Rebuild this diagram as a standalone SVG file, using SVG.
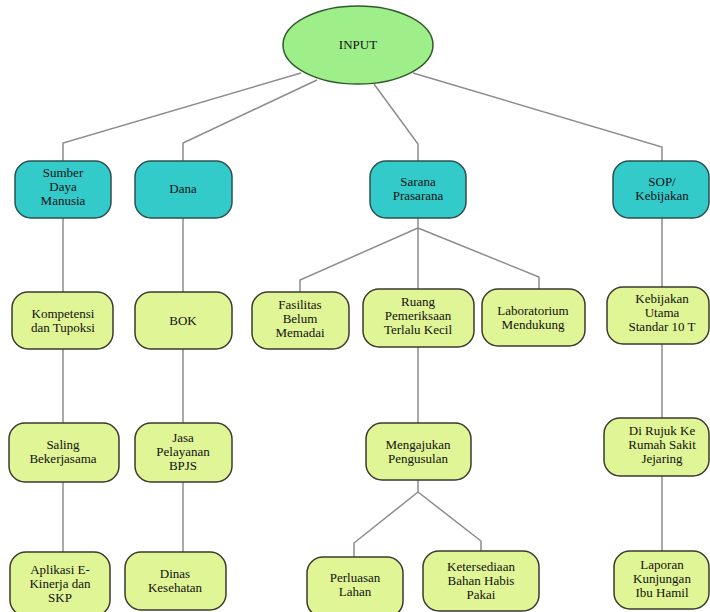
<svg xmlns="http://www.w3.org/2000/svg" width="710" height="612" viewBox="0 0 710 612">
<style>
text{font-family:'Liberation Serif','Times New Roman','DejaVu Serif',serif;font-size:13px;fill:#111;text-anchor:middle}
.teal{fill:#33CACA;stroke:#2E4F4F;stroke-width:1.5}
.lime{fill:#E0F595;stroke:#3A3A30;stroke-width:1.5}
.c{fill:none;stroke:#8C8C8C;stroke-width:1.5}
</style>
<rect width="710" height="612" fill="#fff"/>
<g id="connectors">
<polyline class="c" points="301,73 63,143 63,161"/>
<polyline class="c" points="317,80 183,143 183,161"/>
<polyline class="c" points="374,84 418,144 418,161"/>
<polyline class="c" points="413,73 662,147 662,161"/>
<line class="c" x1="63" y1="218" x2="63" y2="292"/>
<line class="c" x1="183" y1="218" x2="183" y2="292"/>
<polyline class="c" points="418,218 418,228 300,280 300,292"/>
<line class="c" x1="418" y1="228" x2="418" y2="289"/>
<polyline class="c" points="418,228 539,277 539,289"/>
<line class="c" x1="662" y1="218" x2="662" y2="287"/>
<line class="c" x1="63" y1="349" x2="63" y2="423"/>
<line class="c" x1="183" y1="349" x2="183" y2="423"/>
<line class="c" x1="418" y1="347" x2="418" y2="423"/>
<line class="c" x1="662" y1="344" x2="662" y2="418"/>
<line class="c" x1="63" y1="482" x2="63" y2="552"/>
<line class="c" x1="183" y1="482" x2="183" y2="552"/>
<polyline class="c" points="418,480 418,492 354,543 354,557"/>
<polyline class="c" points="418,492 481,541 481,551"/>
<line class="c" x1="662" y1="476" x2="662" y2="551"/>
</g>
<g id="input"><ellipse cx="358" cy="45" rx="75" ry="39" fill="#9EEE8A" stroke="#2F5A2A" stroke-width="1.5"/><text x="358" y="49">INPUT</text></g>
<g id="sdm"><rect class="teal" x="15" y="161" width="96" height="57" rx="16"/><text x="63" y="177">Sumber</text><text x="63" y="191">Daya</text><text x="63" y="205">Manusia</text></g>
<g id="dana"><rect class="teal" x="135" y="161" width="97" height="57" rx="16"/><text x="183" y="193">Dana</text></g>
<g id="sarana"><rect class="teal" x="370" y="161" width="96" height="57" rx="16"/><text x="418" y="186">Sarana</text><text x="418" y="200">Prasarana</text></g>
<g id="sop"><rect class="teal" x="613" y="161" width="96" height="57" rx="16"/><text x="662" y="186">SOP/</text><text x="662" y="200">Kebijakan</text></g>
<g id="kompetensi"><rect class="lime" x="12" y="292" width="101" height="57" rx="16"/><text x="63" y="318">Kompetensi</text><text x="63" y="332">dan Tupoksi</text></g>
<g id="bok"><rect class="lime" x="135" y="292" width="97" height="57" rx="16"/><text x="183" y="325">BOK</text></g>
<g id="fasilitas"><rect class="lime" x="252" y="292" width="97" height="57" rx="16"/><text x="300" y="309">Fasilitas</text><text x="300" y="323">Belum</text><text x="300" y="337">Memadai</text></g>
<g id="ruang"><rect class="lime" x="363" y="289" width="111" height="58" rx="16"/><text x="418" y="306">Ruang</text><text x="418" y="320">Pemeriksaan</text><text x="418" y="334">Terlalu Kecil</text></g>
<g id="lab"><rect class="lime" x="482" y="289" width="103" height="57" rx="16"/><text x="533" y="315">Laboratorium</text><text x="533" y="329">Mendukung</text></g>
<g id="kebijakan"><rect class="lime" x="607" y="287" width="102" height="57" rx="16"/><text x="662" y="303">Kebijakan</text><text x="662" y="317">Utama</text><text x="662" y="331">Standar 10 T</text></g>
<g id="saling"><rect class="lime" x="9" y="423" width="110" height="59" rx="16"/><text x="63" y="449">Saling</text><text x="63" y="463">Bekerjasama</text></g>
<g id="jasa"><rect class="lime" x="135" y="423" width="97" height="59" rx="16"/><text x="183" y="442">Jasa</text><text x="183" y="456">Pelayanan</text><text x="183" y="470">BPJS</text></g>
<g id="mengajukan"><rect class="lime" x="366" y="423" width="105" height="57" rx="16"/><text x="418" y="449">Mengajukan</text><text x="418" y="463">Pengusulan</text></g>
<g id="dirujuk"><rect class="lime" x="604" y="418" width="105" height="58" rx="16"/><text x="662" y="435">Di Rujuk Ke</text><text x="662" y="449">Rumah Sakit</text><text x="662" y="463">Jejaring</text></g>
<g id="aplikasi"><rect class="lime" x="10" y="552" width="100" height="64" rx="16"/><text x="60" y="574">Aplikasi E-</text><text x="60" y="588">Kinerja dan</text><text x="60" y="602">SKP</text></g>
<g id="dinas"><rect class="lime" x="125" y="552" width="101" height="58" rx="16"/><text x="175" y="578">Dinas</text><text x="175" y="592">Kesehatan</text></g>
<g id="perluasan"><rect class="lime" x="307" y="557" width="96" height="60" rx="16"/><text x="355" y="582">Perluasan</text><text x="355" y="596">Lahan</text></g>
<g id="ketersediaan"><rect class="lime" x="423" y="551" width="116" height="60" rx="16"/><text x="481" y="571">Ketersediaan</text><text x="481" y="585">Bahan Habis</text><text x="481" y="599">Pakai</text></g>
<g id="laporan"><rect class="lime" x="614" y="551" width="95" height="58" rx="16"/><text x="662" y="569">Laporan</text><text x="662" y="583">Kunjungan</text><text x="662" y="597">Ibu Hamil</text></g>
</svg>
